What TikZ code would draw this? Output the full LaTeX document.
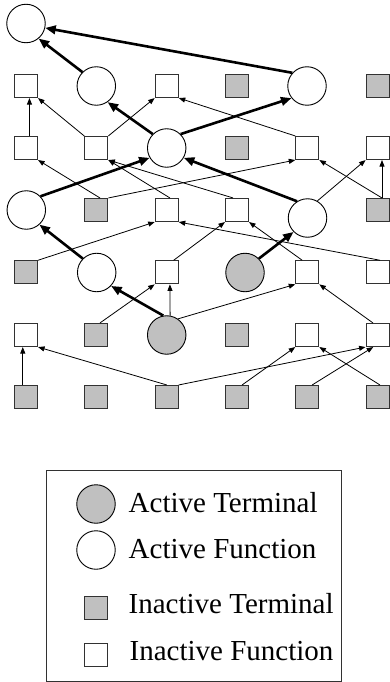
\documentclass[tikz,border=0pt]{standalone}
\usepackage{fontspec}
\setmainfont{Liberation Serif}
\usetikzlibrary{arrows.meta}
\definecolor{termgray}{RGB}{192,192,192}
\definecolor{boxedge}{RGB}{50,50,50}

\begin{document}
\begin{tikzpicture}[x=1pt,y=-1pt,
  fsq/.style={rectangle,draw=boxedge,line width=1.1pt,fill=white,minimum size=23pt,inner sep=0pt},
  tsq/.style={fsq,fill=termgray},
  fcirc/.style={circle,draw=black,line width=0.9pt,fill=white,minimum size=38.5pt,inner sep=0pt},
  tcirc/.style={fcirc,fill=termgray},
  thin link/.style={line width=0.8pt,-{Triangle[length=6.5pt,width=5pt]}},
  thick link/.style={line width=2.6pt,-{Triangle[length=10.5pt,width=8.5pt]}},
  legend text/.style={anchor=base west,inner sep=0pt,font=\fontsize{29}{34}\selectfont}]

\useasboundingbox (0,0) rectangle (390,682);

% output node
\node[fcirc] (C0) at (26,23.5) {};

% row 2
\node[fsq]   (s21) at (26,86) {};
\node[fcirc] (C22) at (96.3,86) {};
\node[fsq]   (s23) at (166.7,86) {};
\node[tsq]   (g24) at (237,86) {};
\node[fcirc] (C25) at (307,86) {};
\node[tsq]   (g26) at (377.6,86) {};

% row 3
\node[fsq]   (s31) at (26,148) {};
\node[fsq]   (s32) at (96.3,148) {};
\node[fcirc] (C33) at (166.7,148) {};
\node[tsq]   (g34) at (237,148) {};
\node[fsq]   (s35) at (307.3,148) {};
\node[fsq]   (s36) at (377.6,148) {};

% row 4
\node[fcirc] (C41) at (26.3,210) {};
\node[tsq]   (g42) at (96.3,210) {};
\node[fsq]   (s43) at (166.7,210) {};
\node[fsq]   (s44) at (237,210) {};
\node[fcirc] (C45) at (307.5,218) {};
\node[tsq]   (g46) at (377.6,210) {};

% row 5
\node[tsq]   (g51) at (26,272.3) {};
\node[fcirc] (C52) at (96.7,272.5) {};
\node[fsq]   (s53) at (166.7,272.3) {};
\node[tcirc] (A54) at (245,272.5) {};
\node[fsq]   (s55) at (307.3,272.3) {};
\node[fsq]   (s56) at (377.6,272.3) {};

% row 6
\node[fsq]   (s61) at (26,335) {};
\node[tsq]   (g62) at (96.3,335) {};
\node[tcirc] (A63) at (166.7,335) {};
\node[tsq]   (g64) at (237,335) {};
\node[fsq]   (s65) at (307.3,335) {};
\node[fsq]   (s66) at (377.6,335) {};

% input row
\foreach \x [count=\i] in {26,96.3,166.7,237,307.3,377.6}
  \node[tsq] (g7\i) at (\x,397) {};

% inactive connections
\draw[thin link] (s31.74)        -- (s21.286);
\draw[thin link] (s32.north west) -- (s21.south east);
\draw[thin link] (s32.north east) -- (s23.south west);
\draw[thin link] (s35.north west) -- (s23.south east);
\draw[thin link] (g46.70)        -- (s36.290);
\draw[thin link] (C45.60)        -- (s36.south west);
\draw[thin link] (g46.70)        -- (s35.south east);
\draw[thin link] (g42.73)        -- (s31.south east);
\draw[thin link] (g42.north east) -- (s35.south west);
\draw[thin link] (s43.75)        -- (s32.south east);
\draw[thin link] (s44.108)       -- (s32.south east);
\draw[thin link] (g51.north east) -- (s43.south west);
\draw[thin link] (s56.79)        -- (s43.south east);
\draw[thin link] (s53.60)        -- (s44.south west);
\draw[thin link] (s55.113)       -- (s44.south east);
\draw[thin link] (A63.80)        -- (s53.285);
\draw[thin link] (g62.73)        -- (s53.south west);
\draw[thin link] (A63.55)        -- (s55.south west);
\draw[thin link] (s66.111)       -- (s55.south east);
\draw[thin link] (g71.105)       -- (s61.255);
\draw[thin link] (g73.north)     -- (s61.south east);
\draw[thin link] (g73.north east) -- (s66.south west);
\draw[thin link] (g74.67)        -- (s65.south west);
\draw[thin link] (g75.68)        -- (s66.250);
\draw[thin link] (g76.79)        -- (s65.south east);

% active path
\draw[thick link] (C25.138) -- (C0.347);
\draw[thick link] (C22.135) -- (C0.310);
\draw[thick link] (C33.135) -- (C22.305);
\draw[thick link] (C33.45)  -- (C25.218);
\draw[thick link] (C41.44)  -- (C33.210);
\draw[thick link] (C45.122) -- (C33.330);
\draw[thick link] (C52.135) -- (C41.312);
\draw[thick link] (A63.100) -- (C52.317);
\draw[thick link] (A54.45)  -- (C45.225);

% legend
\draw[draw=boxedge,line width=1pt] (46,470) rectangle (341,681);
\node[tcirc] (k1) at (96,504) {};
\node[fcirc] (k2) at (96,550) {};
\node[tsq]   (k3) at (96.3,607.7) {};
\node[fsq]   (k4) at (96.3,654.7) {};
\node[legend text] (t1) at (128.5,512.5) {Active Terminal};
\node[legend text] (t2) at (128.5,558) {Active Function};
\node[legend text] (t3) at (128.5,613.5) {Inactive Terminal};
\node[legend text] (t4) at (129.5,660.5) {Inactive Function};

\end{tikzpicture}
\end{document}
